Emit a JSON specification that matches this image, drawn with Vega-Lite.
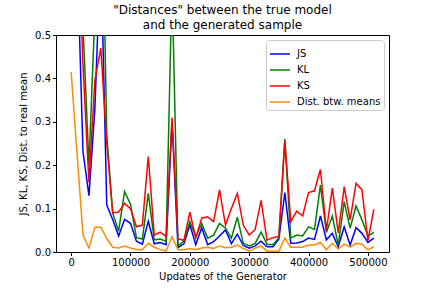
{
  "$schema": "https://vega.github.io/schema/vega-lite/v6.json",
  "width": 333,
  "height": 217,
  "autosize": "none",
  "padding": {"left": 56, "top": 35, "right": 43, "bottom": 36},
  "background": "white",
  "config": {
    "font": "DejaVu Sans",
    "view": {"stroke": "black", "strokeWidth": 1}
  },
  "title": {
    "text": ["\"Distances\" between the true model", "and the generated sample"],
    "fontSize": 12,
    "fontWeight": "normal",
    "font": "DejaVu Sans",
    "color": "black",
    "anchor": "middle",
    "offset": -2,
    "lineHeight": 15
  },
  "data": {
    "values": [
      {"u": 0, "JS": 0.69, "KL": 1.5, "KS": 0.85, "Dist": 0.415},
      {"u": 10000, "JS": 0.69, "KL": 1.2, "KS": 0.8, "Dist": 0.225},
      {"u": 20000, "JS": 0.231, "KL": 0.52, "KS": 0.43, "Dist": 0.039},
      {"u": 30000, "JS": 0.13, "KL": 0.2, "KS": 0.16, "Dist": 0.009},
      {"u": 40000, "JS": 0.33, "KL": 0.55, "KS": 0.396, "Dist": 0.057},
      {"u": 50000, "JS": 0.7, "KL": 1.0, "KS": 0.47, "Dist": 0.057},
      {"u": 60000, "JS": 0.108, "KL": 0.27, "KS": 0.25, "Dist": 0.031},
      {"u": 70000, "JS": 0.075, "KL": 0.09, "KS": 0.09, "Dist": 0.011},
      {"u": 80000, "JS": 0.037, "KL": 0.048, "KS": 0.092, "Dist": 0.009},
      {"u": 90000, "JS": 0.075, "KL": 0.139, "KS": 0.112, "Dist": 0.014},
      {"u": 100000, "JS": 0.066, "KL": 0.11, "KS": 0.1, "Dist": 0.009},
      {"u": 110000, "JS": 0.025, "KL": 0.033, "KS": 0.058, "Dist": 0.006},
      {"u": 120000, "JS": 0.018, "KL": 0.03, "KS": 0.062, "Dist": 0.005},
      {"u": 130000, "JS": 0.071, "KL": 0.135, "KS": 0.22, "Dist": 0.02},
      {"u": 140000, "JS": 0.019, "KL": 0.028, "KS": 0.039, "Dist": 0.011},
      {"u": 150000, "JS": 0.022, "KL": 0.03, "KS": 0.046, "Dist": 0.006},
      {"u": 160000, "JS": 0.017, "KL": 0.025, "KS": 0.036, "Dist": 0.002},
      {"u": 170000, "JS": 0.3, "KL": 0.62, "KS": 0.31, "Dist": 0.035},
      {"u": 180000, "JS": 0.01, "KL": 0.013, "KS": 0.03, "Dist": 0.005},
      {"u": 190000, "JS": 0.019, "KL": 0.026, "KS": 0.027, "Dist": 0.005},
      {"u": 200000, "JS": 0.062, "KL": 0.07, "KS": 0.092, "Dist": 0.008},
      {"u": 210000, "JS": 0.017, "KL": 0.035, "KS": 0.032, "Dist": 0.005},
      {"u": 220000, "JS": 0.056, "KL": 0.066, "KS": 0.078, "Dist": 0.009},
      {"u": 230000, "JS": 0.017, "KL": 0.032, "KS": 0.081, "Dist": 0.011},
      {"u": 240000, "JS": 0.024, "KL": 0.039, "KS": 0.07, "Dist": 0.008},
      {"u": 250000, "JS": 0.037, "KL": 0.066, "KS": 0.143, "Dist": 0.014},
      {"u": 260000, "JS": 0.051, "KL": 0.055, "KS": 0.062, "Dist": 0.01},
      {"u": 270000, "JS": 0.019, "KL": 0.032, "KS": 0.1, "Dist": 0.011},
      {"u": 280000, "JS": 0.041, "KL": 0.08, "KS": 0.135, "Dist": 0.016},
      {"u": 290000, "JS": 0.015, "KL": 0.02, "KS": 0.062, "Dist": 0.008},
      {"u": 300000, "JS": 0.009, "KL": 0.014, "KS": 0.039, "Dist": 0.002},
      {"u": 310000, "JS": 0.014, "KL": 0.02, "KS": 0.052, "Dist": 0.009},
      {"u": 320000, "JS": 0.025, "KL": 0.046, "KS": 0.119, "Dist": 0.014},
      {"u": 330000, "JS": 0.012, "KL": 0.018, "KS": 0.027, "Dist": 0.002},
      {"u": 340000, "JS": 0.012, "KL": 0.017, "KS": 0.033, "Dist": 0.002},
      {"u": 350000, "JS": 0.03, "KL": 0.033, "KS": 0.036, "Dist": 0.002},
      {"u": 360000, "JS": 0.137, "KL": 0.26, "KS": 0.256, "Dist": 0.032},
      {"u": 370000, "JS": 0.02, "KL": 0.032, "KS": 0.07, "Dist": 0.011},
      {"u": 380000, "JS": 0.021, "KL": 0.039, "KS": 0.094, "Dist": 0.011},
      {"u": 390000, "JS": 0.024, "KL": 0.037, "KS": 0.083, "Dist": 0.011},
      {"u": 400000, "JS": 0.032, "KL": 0.058, "KS": 0.137, "Dist": 0.016},
      {"u": 410000, "JS": 0.029, "KL": 0.052, "KS": 0.141, "Dist": 0.016},
      {"u": 420000, "JS": 0.083, "KL": 0.154, "KS": 0.19, "Dist": 0.022},
      {"u": 430000, "JS": 0.028, "KL": 0.045, "KS": 0.049, "Dist": 0.005},
      {"u": 440000, "JS": 0.043, "KL": 0.083, "KS": 0.147, "Dist": 0.02},
      {"u": 450000, "JS": 0.012, "KL": 0.016, "KS": 0.044, "Dist": 0.007},
      {"u": 460000, "JS": 0.058, "KL": 0.116, "KS": 0.15, "Dist": 0.018},
      {"u": 470000, "JS": 0.016, "KL": 0.055, "KS": 0.074, "Dist": 0.011},
      {"u": 480000, "JS": 0.056, "KL": 0.106, "KS": 0.158, "Dist": 0.02},
      {"u": 490000, "JS": 0.043, "KL": 0.074, "KS": 0.143, "Dist": 0.018},
      {"u": 500000, "JS": 0.022, "KL": 0.037, "KS": 0.026, "Dist": 0.005},
      {"u": 510000, "JS": 0.032, "KL": 0.045, "KS": 0.098, "Dist": 0.012}
    ]
  },
  "transform": [
    {"fold": ["JS", "KL", "KS", "Dist"], "as": ["series", "value"]}
  ],
  "mark": {"type": "line", "clip": true, "strokeWidth": 1.5},
  "encoding": {
    "x": {
      "field": "u",
      "type": "quantitative",
      "scale": {"domain": [-25500, 535500], "nice": false, "zero": false},
      "axis": {
        "title": "Updates of the Generator",
        "values": [0, 100000, 200000, 300000, 400000, 500000],
        "format": "d",
        "grid": false,
        "domain": false,
        "tickColor": "black",
        "tickSize": 3.5,
        "labelFontSize": 10,
        "labelColor": "black",
        "titleFontSize": 10,
        "titleFontWeight": "normal",
        "titleColor": "black",
        "labelPadding": 2,
        "titlePadding": 4
      }
    },
    "y": {
      "field": "value",
      "type": "quantitative",
      "scale": {"domain": [0, 0.5], "nice": false, "zero": false},
      "axis": {
        "title": "JS, KL, KS, Dist. to real mean",
        "values": [0, 0.1, 0.2, 0.3, 0.4, 0.5],
        "format": ".1f",
        "grid": false,
        "domain": false,
        "tickColor": "black",
        "tickSize": 3.5,
        "labelFontSize": 10,
        "labelColor": "black",
        "titleFontSize": 10,
        "titleFontWeight": "normal",
        "titleColor": "black",
        "labelPadding": 2,
        "titlePadding": 6
      }
    },
    "color": {
      "field": "series",
      "type": "nominal",
      "scale": {
        "domain": ["JS", "KL", "KS", "Dist"],
        "range": ["#0000ff", "#008000", "#ff0000", "#ff8c00"]
      },
      "legend": {
        "title": null,
        "orient": "top-right",
        "offset": 5,
        "labelExpr": "datum.label == 'Dist' ? 'Dist. btw. means' : datum.label",
        "symbolType": "stroke",
        "symbolSize": 400,
        "symbolStrokeWidth": 1.5,
        "labelFontSize": 10,
        "labelColor": "black",
        "fillColor": "white",
        "strokeColor": "#cccccc",
        "cornerRadius": 3,
        "padding": 3,
        "rowPadding": -7,
        "labelOffset": 6
      }
    },
    "order": {"field": "u", "type": "quantitative"}
  }
}
